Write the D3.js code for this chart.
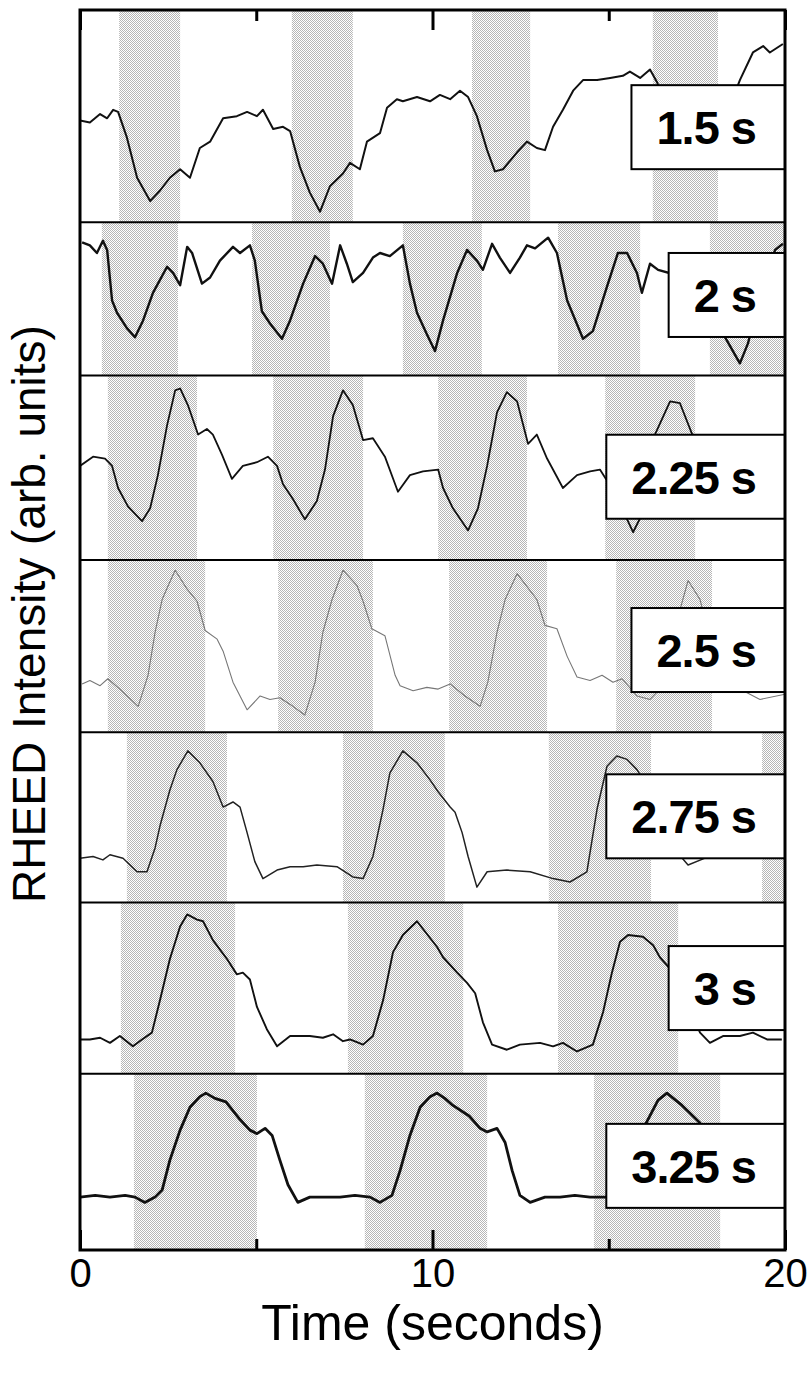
<!DOCTYPE html>
<html>
<head>
<meta charset="utf-8">
<script src="https://cdn.jsdelivr.net/npm/d3@7"></script>
<style>
  body { margin: 0; background: #fff; }
  svg { display: block; font-family: "Liberation Sans", Arial, sans-serif; }
</style>
</head>
<body>
<div id="chart"></div>
<script>
// panel labels (pulse interval)
const labels = ['1.5 s', '2 s', '2.25 s', '2.5 s', '2.75 s', '3 s', '3.25 s'];

// shaded intervals per panel, seconds
const bands = [
  [[1.11, 2.84], [6.01, 7.74], [11.12, 12.77], [16.25, 18.1]],
  [[0.62, 2.78], [4.88, 7.09], [9.16, 11.4], [13.56, 15.89], [17.87, 20]],
  [[0.79, 3.32], [5.48, 8.03], [10.16, 12.68], [14.9, 17.45]],
  [[0.79, 3.55], [5.62, 8.31], [10.47, 13.25], [15.21, 17.93]],
  [[1.33, 4.17], [7.46, 10.35], [13.3, 16.2], [19.35, 20]],
  [[1.16, 4.4], [7.6, 10.87], [13.56, 16.97]],
  [[1.53, 5.02], [8.08, 11.55], [14.58, 18.16]],
];

// RHEED traces: [time (s), intensity (arb., 0..1 of panel)]
const trace_1_5 = [
  [0.00, 0.48], [0.28, 0.47], [0.57, 0.51], [0.77, 0.49], [0.94, 0.53], [1.08, 0.52],
  [1.33, 0.40], [1.62, 0.21], [1.99, 0.10], [2.27, 0.15], [2.55, 0.21], [2.84, 0.25],
  [3.12, 0.21], [3.40, 0.35], [3.69, 0.38], [4.06, 0.49], [4.45, 0.50], [4.74, 0.52],
  [5.02, 0.50], [5.19, 0.53], [5.48, 0.44], [5.76, 0.45], [5.96, 0.43], [6.24, 0.26],
  [6.52, 0.14], [6.81, 0.05], [7.09, 0.17], [7.46, 0.23], [7.66, 0.28], [7.94, 0.25],
  [8.14, 0.38], [8.51, 0.42], [8.71, 0.54], [8.99, 0.58], [9.16, 0.57], [9.56, 0.59],
  [9.93, 0.57], [10.21, 0.60], [10.50, 0.58], [10.78, 0.62], [11.01, 0.59], [11.26, 0.50],
  [11.55, 0.34], [11.77, 0.24], [12.00, 0.25], [12.40, 0.33], [12.68, 0.38], [12.96, 0.35],
  [13.19, 0.34], [13.42, 0.45], [13.70, 0.53], [13.99, 0.62], [14.27, 0.67], [14.67, 0.67],
  [15.04, 0.68], [15.40, 0.69], [15.60, 0.71], [15.89, 0.68], [16.17, 0.72], [16.37, 0.66],
  [16.74, 0.50], [17.30, 0.34], [17.93, 0.39], [18.44, 0.55], [18.72, 0.67], [19.09, 0.80],
  [19.38, 0.83], [19.57, 0.80], [19.94, 0.84],
];
const trace_2 = [
  [0.06, 0.87], [0.28, 0.85], [0.48, 0.80], [0.65, 0.88], [0.77, 0.82], [0.91, 0.49],
  [1.05, 0.41], [1.33, 0.31], [1.56, 0.25], [1.79, 0.36], [2.07, 0.54], [2.47, 0.71],
  [2.64, 0.67], [2.84, 0.59], [3.04, 0.84], [3.18, 0.80], [3.46, 0.60], [3.69, 0.64],
  [3.97, 0.75], [4.34, 0.84], [4.54, 0.80], [4.82, 0.85], [4.96, 0.75], [5.16, 0.42],
  [5.39, 0.34], [5.73, 0.24], [5.96, 0.36], [6.33, 0.60], [6.67, 0.78], [6.89, 0.73],
  [7.15, 0.60], [7.38, 0.85], [7.57, 0.73], [7.74, 0.61], [8.03, 0.67], [8.31, 0.77],
  [8.51, 0.80], [8.79, 0.78], [9.16, 0.85], [9.36, 0.60], [9.56, 0.41], [9.84, 0.27],
  [10.07, 0.16], [10.30, 0.36], [10.70, 0.67], [10.98, 0.82], [11.26, 0.75], [11.43, 0.69],
  [11.69, 0.86], [11.91, 0.77], [12.20, 0.67], [12.48, 0.77], [12.68, 0.85], [12.91, 0.83],
  [13.28, 0.90], [13.53, 0.80], [13.82, 0.49], [14.27, 0.24], [14.55, 0.29], [14.95, 0.58],
  [15.26, 0.80], [15.52, 0.80], [15.80, 0.67], [15.94, 0.54], [16.17, 0.73], [16.40, 0.69],
  [17.02, 0.65], [17.59, 0.56], [18.01, 0.36], [18.35, 0.23], [18.72, 0.08], [18.95, 0.21],
  [19.35, 0.59], [19.72, 0.82], [19.94, 0.86],
];
const trace_2_25 = [
  [0.00, 0.51], [0.37, 0.56], [0.71, 0.55], [0.91, 0.51], [1.08, 0.39], [1.36, 0.29],
  [1.76, 0.21], [1.99, 0.28], [2.21, 0.46], [2.47, 0.73], [2.70, 0.92], [2.84, 0.93],
  [3.06, 0.84], [3.35, 0.68], [3.60, 0.71], [3.77, 0.68], [4.03, 0.57], [4.31, 0.44],
  [4.62, 0.51], [5.02, 0.53], [5.33, 0.56], [5.59, 0.51], [5.76, 0.41], [6.04, 0.33],
  [6.38, 0.22], [6.72, 0.32], [6.95, 0.49], [7.18, 0.78], [7.46, 0.92], [7.74, 0.84],
  [8.03, 0.65], [8.31, 0.66], [8.65, 0.56], [9.02, 0.37], [9.36, 0.46], [9.73, 0.48],
  [10.16, 0.49], [10.30, 0.39], [10.58, 0.28], [11.01, 0.16], [11.29, 0.28], [11.55, 0.51],
  [11.83, 0.80], [12.11, 0.91], [12.40, 0.86], [12.71, 0.63], [12.96, 0.68], [13.25, 0.55],
  [13.70, 0.39], [14.10, 0.46], [14.47, 0.48], [14.75, 0.49], [15.18, 0.36], [15.69, 0.15],
  [16.03, 0.28], [16.31, 0.68], [16.74, 0.86], [17.02, 0.85], [17.39, 0.67], [17.73, 0.58],
  [18.16, 0.63], [18.72, 0.49], [19.29, 0.44], [20.00, 0.47],
];
const trace_2_5 = [
  [0.06, 0.28], [0.28, 0.30], [0.57, 0.27], [0.79, 0.31], [1.13, 0.25], [1.65, 0.15],
  [1.93, 0.33], [2.13, 0.58], [2.33, 0.77], [2.50, 0.85], [2.70, 0.94], [3.04, 0.83],
  [3.32, 0.76], [3.55, 0.59], [3.89, 0.54], [4.06, 0.47], [4.34, 0.29], [4.74, 0.13],
  [5.11, 0.21], [5.39, 0.19], [5.67, 0.20], [6.04, 0.15], [6.38, 0.10], [6.67, 0.29],
  [6.89, 0.58], [7.15, 0.77], [7.46, 0.94], [7.86, 0.85], [8.03, 0.76], [8.28, 0.60],
  [8.65, 0.56], [8.94, 0.33], [9.08, 0.27], [9.45, 0.24], [9.84, 0.26], [10.16, 0.25],
  [10.50, 0.28], [10.92, 0.21], [11.35, 0.15], [11.57, 0.29], [11.83, 0.58], [12.06, 0.77],
  [12.40, 0.92], [12.96, 0.77], [13.19, 0.62], [13.53, 0.60], [13.82, 0.44], [14.10, 0.32],
  [14.47, 0.30], [14.81, 0.33], [15.12, 0.29], [15.38, 0.31], [15.80, 0.21], [16.17, 0.19],
  [16.45, 0.25], [16.79, 0.54], [17.25, 0.88], [17.59, 0.77], [17.87, 0.54], [18.30, 0.42],
  [18.72, 0.25], [19.29, 0.19], [20.00, 0.22],
];
const trace_2_75 = [
  [0.00, 0.26], [0.37, 0.27], [0.65, 0.25], [0.85, 0.28], [1.22, 0.26], [1.62, 0.18],
  [1.90, 0.18], [2.13, 0.32], [2.27, 0.45], [2.55, 0.66], [2.75, 0.78], [3.06, 0.89],
  [3.40, 0.82], [3.77, 0.71], [4.06, 0.56], [4.34, 0.59], [4.54, 0.56], [4.74, 0.41],
  [4.96, 0.24], [5.19, 0.14], [5.59, 0.19], [5.96, 0.21], [6.33, 0.21], [6.72, 0.22],
  [7.29, 0.21], [7.74, 0.15], [8.03, 0.14], [8.31, 0.27], [8.60, 0.55], [8.79, 0.76],
  [9.16, 0.89], [9.56, 0.82], [9.93, 0.72], [10.16, 0.65], [10.50, 0.56], [10.64, 0.53],
  [10.84, 0.41], [11.01, 0.27], [11.26, 0.09], [11.55, 0.18], [12.11, 0.19], [12.77, 0.18],
  [13.42, 0.14], [13.90, 0.12], [14.38, 0.18], [14.67, 0.55], [14.95, 0.80], [15.23, 0.86],
  [15.52, 0.84], [15.80, 0.78], [16.17, 0.66], [16.51, 0.52], [16.88, 0.31], [17.25, 0.22],
  [17.73, 0.26], [18.72, 0.28], [20.00, 0.28],
];
const trace_3 = [
  [0.00, 0.20], [0.28, 0.20], [0.57, 0.21], [0.85, 0.18], [1.13, 0.22], [1.50, 0.16],
  [1.76, 0.20], [2.04, 0.24], [2.27, 0.43], [2.55, 0.67], [2.84, 0.86], [3.04, 0.93],
  [3.32, 0.90], [3.49, 0.89], [3.77, 0.78], [4.17, 0.67], [4.45, 0.58], [4.62, 0.59],
  [4.82, 0.55], [5.02, 0.39], [5.30, 0.26], [5.59, 0.16], [5.96, 0.22], [6.52, 0.22],
  [6.89, 0.21], [7.18, 0.23], [7.46, 0.19], [7.66, 0.20], [8.03, 0.17], [8.31, 0.22],
  [8.60, 0.43], [8.88, 0.71], [9.16, 0.81], [9.56, 0.89], [10.13, 0.74], [10.30, 0.68],
  [10.70, 0.59], [10.98, 0.53], [11.21, 0.47], [11.43, 0.30], [11.69, 0.17], [12.11, 0.14],
  [12.48, 0.17], [13.05, 0.18], [13.42, 0.16], [13.70, 0.18], [14.10, 0.13], [14.55, 0.17],
  [14.84, 0.36], [15.09, 0.59], [15.32, 0.77], [15.55, 0.81], [15.97, 0.80], [16.26, 0.75],
  [16.45, 0.68], [16.88, 0.58], [17.30, 0.37], [17.59, 0.24], [17.87, 0.18], [18.24, 0.22],
  [18.72, 0.22], [19.09, 0.24], [19.49, 0.20], [19.91, 0.20],
];
const trace_3_25 = [
  [0.00, 0.30], [0.43, 0.31], [0.85, 0.30], [1.28, 0.31], [1.56, 0.30], [1.84, 0.27],
  [2.13, 0.30], [2.33, 0.34], [2.55, 0.51], [2.84, 0.68], [3.12, 0.81], [3.40, 0.87],
  [3.57, 0.89], [3.83, 0.86], [4.14, 0.84], [4.54, 0.74], [4.82, 0.68], [5.02, 0.66],
  [5.25, 0.69], [5.45, 0.65], [5.67, 0.51], [5.90, 0.37], [6.18, 0.27], [6.52, 0.30],
  [6.95, 0.30], [7.38, 0.30], [7.80, 0.31], [8.23, 0.30], [8.51, 0.27], [8.85, 0.31],
  [9.08, 0.45], [9.36, 0.65], [9.65, 0.81], [9.93, 0.87], [10.13, 0.89], [10.35, 0.86],
  [10.58, 0.82], [11.04, 0.76], [11.35, 0.69], [11.55, 0.67], [11.83, 0.69], [12.06, 0.61],
  [12.26, 0.45], [12.48, 0.31], [12.77, 0.27], [13.19, 0.30], [13.62, 0.30], [14.04, 0.31],
  [14.47, 0.30], [15.18, 0.30], [15.60, 0.45], [16.06, 0.72], [16.40, 0.85], [16.65, 0.89],
  [17.08, 0.82], [17.59, 0.72], [18.01, 0.57], [18.30, 0.40], [18.72, 0.30], [20.00, 0.30],
];
const traces = [trace_1_5, trace_2, trace_2_25, trace_2_5, trace_2_75, trace_3, trace_3_25];

const xTicksMajor = [0, 10, 20];
const xTicksMinor = [5, 15];

// layout
const width = 810;
const height = 1374;
const plot = { left: 80, right: 785, top: 10, bottom: 1250 };
const panelWeights = [212, 153, 184, 172, 170, 171, 176];
const boxShift = [11, -4, 9, 4, -1, 0, 4];
const lineStyle = [
  { w: 2, c: '#111' }, { w: 2.4, c: '#111' }, { w: 1.8, c: '#111' }, { w: 1.1, c: '#777' },
  { w: 1.5, c: '#222' }, { w: 1.9, c: '#111' }, { w: 2.8, c: '#111' },
];

const svg = d3.select('#chart')
  .append('svg')
  .attr('width', width)
  .attr('height', height);

svg.append('rect').attr('width', width).attr('height', height).attr('fill', '#fff');

const defs = svg.append('defs');
const pat = defs.append('pattern')
  .attr('id', 'stipple')
  .attr('width', 2)
  .attr('height', 2)
  .attr('patternUnits', 'userSpaceOnUse');
pat.append('rect').attr('width', 2).attr('height', 2).attr('fill', '#fff');
pat.append('rect').attr('width', 1).attr('height', 1).attr('fill', '#b6b6b6');
pat.append('rect').attr('x', 1).attr('y', 1).attr('width', 1).attr('height', 1).attr('fill', '#b6b6b6');

const x = d3.scaleLinear().domain([0, 20]).range([plot.left, plot.right]);

// panel boundaries
const totalW = d3.sum(panelWeights);
const edges = d3.cumsum([0, ...panelWeights])
  .map((d) => plot.top + (d / totalW) * (plot.bottom - plot.top));

const panels = labels.map((label, i) => ({
  label,
  i,
  top: edges[i],
  bottom: edges[i + 1],
  bands: bands[i],
  trace: traces[i],
}));

panels.forEach((p) => {
  const y = d3.scaleLinear().domain([0, 1]).range([p.bottom, p.top]);

  defs.append('clipPath')
    .attr('id', `clip-${p.i}`)
    .append('rect')
    .attr('x', plot.left)
    .attr('y', p.top)
    .attr('width', plot.right - plot.left)
    .attr('height', p.bottom - p.top);

  const g = svg.append('g')
    .attr('class', 'panel')
    .attr('clip-path', `url(#clip-${p.i})`);

  g.selectAll('rect.band')
    .data(p.bands)
    .join('rect')
    .attr('class', 'band')
    .attr('x', (d) => x(d[0]))
    .attr('width', (d) => x(d[1]) - x(d[0]))
    .attr('y', p.top)
    .attr('height', p.bottom - p.top)
    .attr('fill', 'url(#stipple)');

  const line = d3.line()
    .x((d) => x(d[0]))
    .y((d) => y(d[1]));

  g.append('path')
    .datum(p.trace)
    .attr('fill', 'none')
    .attr('stroke', lineStyle[p.i].c)
    .attr('stroke-width', lineStyle[p.i].w)
    .attr('stroke-linejoin', 'round')
    .attr('d', line);

  // label box
  const boxH = 84;
  const cy = (p.top + p.bottom) / 2 + boxShift[p.i];
  const gb = svg.append('g').attr('class', 'label-box');
  const rect = gb.append('rect')
    .attr('y', cy - boxH / 2)
    .attr('height', boxH)
    .attr('fill', '#fff')
    .attr('stroke', '#000')
    .attr('stroke-width', 2);
  const txt = gb.append('text')
    .attr('y', cy)
    .attr('dy', '0.36em')
    .attr('text-anchor', 'middle')
    .style('font-size', '47px')
    .style('font-weight', 'bold')
    .style('letter-spacing', '-1px')
    .text(p.label);
  const tw = txt.node().getComputedTextLength();
  const boxW = tw + 54;
  rect.attr('x', plot.right - boxW).attr('width', boxW);
  txt.attr('x', plot.right - boxW / 2 - 2);
});

// separators
svg.append('g')
  .selectAll('line')
  .data(edges.slice(1, -1))
  .join('line')
  .attr('x1', plot.left)
  .attr('x2', plot.right)
  .attr('y1', (d) => d)
  .attr('y2', (d) => d)
  .attr('stroke', '#000')
  .attr('stroke-width', 2);

// frame
svg.append('rect')
  .attr('x', plot.left)
  .attr('y', plot.top)
  .attr('width', plot.right - plot.left)
  .attr('height', plot.bottom - plot.top)
  .attr('fill', 'none')
  .attr('stroke', '#000')
  .attr('stroke-width', 3);

// axes
const axisStyle = (g) => {
  g.select('.domain').remove();
  g.selectAll('.tick line').attr('stroke', '#000').attr('stroke-width', 3);
};

svg.append('g')
  .attr('transform', `translate(0,${plot.bottom})`)
  .call(d3.axisBottom(x).tickValues(xTicksMajor).tickSize(-20).tickPadding(9))
  .call(axisStyle)
  .call((g) => g.selectAll('.tick text')
    .attr('fill', '#000')
    .style('font-size', '40px')
    .style('font-family', '"Liberation Sans", Arial, sans-serif'));

svg.append('g')
  .attr('transform', `translate(0,${plot.bottom})`)
  .call(d3.axisBottom(x).tickValues(xTicksMinor).tickSize(-11).tickFormat(''))
  .call(axisStyle);

svg.append('g')
  .attr('transform', `translate(0,${plot.top})`)
  .call(d3.axisTop(x).tickValues(xTicksMajor).tickSize(-20).tickFormat(''))
  .call(axisStyle);

svg.append('g')
  .attr('transform', `translate(0,${plot.top})`)
  .call(d3.axisTop(x).tickValues(xTicksMinor).tickSize(-11).tickFormat(''))
  .call(axisStyle);

// axis titles
svg.append('text')
  .attr('x', (plot.left + plot.right) / 2)
  .attr('y', 1340)
  .attr('text-anchor', 'middle')
  .style('font-size', '50px')
  .text('Time (seconds)');

svg.append('text')
  .attr('transform', `translate(45,${614}) rotate(-90)`)
  .attr('text-anchor', 'middle')
  .style('font-size', '46px')
  .text('RHEED Intensity (arb. units)');
</script>
</body>
</html>
